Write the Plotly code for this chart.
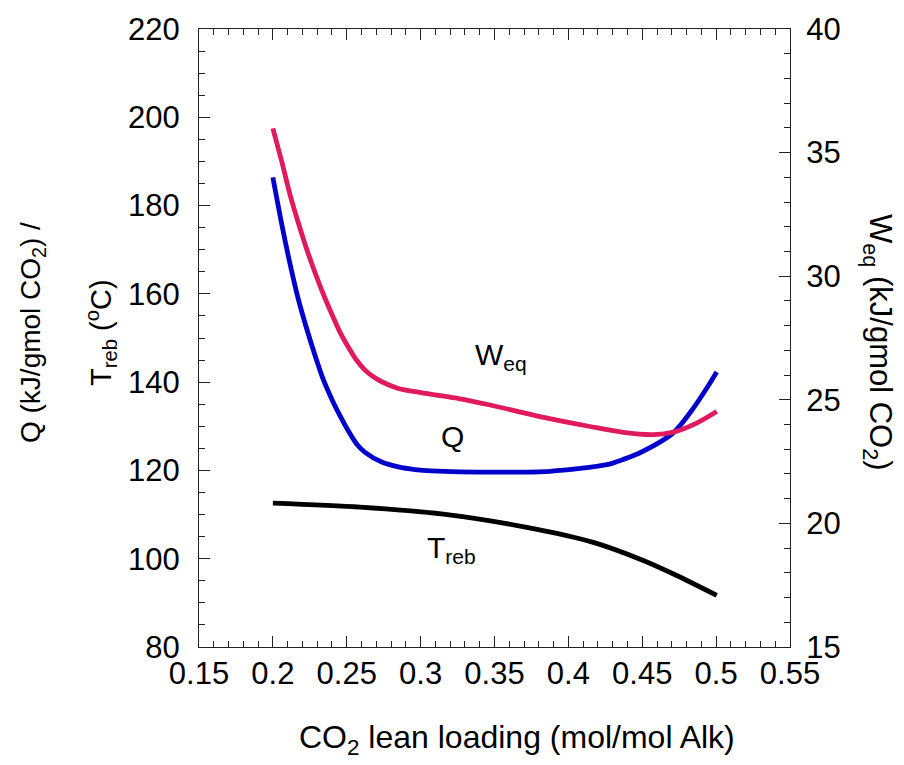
import plotly.graph_objects as go

# Q (kJ/gmol CO2), left axis
q_x = [0.2, 0.206, 0.2116, 0.2172, 0.2229, 0.2285, 0.2341, 0.2398, 0.2454, 0.251,
       0.2567, 0.2624, 0.2737, 0.2849, 0.2962, 0.3075, 0.35, 0.3876, 0.426, 0.4372,
       0.4485, 0.471, 0.4846, 0.4936, 0.5004]
q_y = [186.4, 175.8, 166.8, 158.8, 152.1, 146.1, 140.6, 136.2, 132.4, 129.0,
       126.0, 124.1, 121.9, 120.8, 120.2, 119.9, 119.6, 119.8, 121.3, 122.5,
       124.0, 128.5, 134.1, 138.6, 142.3]

# T_reb (C), left axis
t_x = [0.2, 0.259, 0.3154, 0.3718, 0.4169, 0.4507, 0.4733, 0.5004]
t_y = [112.6, 111.7, 110.1, 107.1, 103.7, 99.6, 96.2, 91.7]

# W_eq (kJ/gmol CO2), right axis
w_x = [0.2, 0.206, 0.2116, 0.2172, 0.2229, 0.2285, 0.2341, 0.2398, 0.2454, 0.251,
       0.2567, 0.2624, 0.268, 0.2737, 0.2849, 0.2962, 0.3075, 0.3267, 0.347, 0.3808,
       0.4146, 0.4372, 0.4575, 0.471, 0.4868, 0.5004]
w_y = [35.98, 34.64, 33.30, 32.16, 31.09, 30.15, 29.28, 28.48, 27.74, 27.14,
       26.60, 26.20, 25.93, 25.73, 25.46, 25.33, 25.22, 25.04, 24.79, 24.32,
       23.92, 23.68, 23.59, 23.69, 24.06, 24.53]

FONT = "Liberation Sans, Arial, sans-serif"
AX = "#222222"

fig = go.Figure()
fig.add_trace(go.Scatter(x=q_x, y=q_y, mode="lines", line=dict(color="#0000CC", width=4.8, shape="spline", smoothing=0.8), showlegend=False))
fig.add_trace(go.Scatter(x=t_x, y=t_y, mode="lines", line=dict(color="#000000", width=4.8, shape="spline", smoothing=0.8), showlegend=False))
fig.add_trace(go.Scatter(x=w_x, y=w_y, mode="lines", yaxis="y2", line=dict(color="#E01A5C", width=4.8, shape="spline", smoothing=0.8), showlegend=False))

W, H = 904, 765
L, R, T, B = 199, 790, 25, 647

def px(xp):
    return (xp - L) / (R - L)

def py(yp):
    return (B - yp) / (B - T)

tickfont = dict(family=FONT, size=31, color="#000000")
minor_common = dict(ticks="inside", ticklen=6, tickwidth=1.3, tickcolor=AX, showgrid=False)
fig.update_layout(
    width=W, height=H, autosize=False,
    margin=dict(l=L, r=W - R, t=T, b=H - B),
    paper_bgcolor="white", plot_bgcolor="white",
    xaxis=dict(range=[0.15, 0.55], dtick=0.05, tick0=0.15, ticks="inside", ticklen=11, tickwidth=1.3,
               tickcolor=AX, showline=True, linecolor=AX, linewidth=1.3, mirror="ticks",
               showgrid=False, zeroline=False, tickfont=tickfont, ticklabelstandoff=-1,
               minor=dict(dtick=0.01, **minor_common)),
    yaxis=dict(range=[80, 220], dtick=20, ticks="inside", ticklen=11, tickwidth=1.3,
               tickcolor=AX, showline=True, linecolor=AX, linewidth=1.3, mirror=False,
               showgrid=False, zeroline=False, tickfont=tickfont, ticklabelstandoff=12,
               minor=dict(dtick=5, **minor_common)),
    yaxis2=dict(range=[15, 40], dtick=5, overlaying="y", side="right", ticks="inside", ticklen=11, tickwidth=1.3,
                tickcolor=AX, showline=True, linecolor=AX, linewidth=1.3,
                showgrid=False, zeroline=False, tickfont=tickfont, ticklabelstandoff=9,
                minor=dict(dtick=1, **minor_common)),
)

def f(size):
    return dict(family=FONT, size=size, color="#000000")

ann = [
    dict(text="CO<sub>2</sub> lean loading (mol/mol Alk)", x=px(517), y=py(740), xref="paper", yref="paper",
         xanchor="center", yanchor="middle", showarrow=False, font=f(32)),
    dict(text="Q (kJ/gmol CO<sub>2</sub>) /", x=px(32), y=py(331), xref="paper", yref="paper",
         xanchor="center", yanchor="middle", showarrow=False, font=f(28), textangle=-90),
    dict(text="T<sub>reb</sub> (<sup>o</sup>C)", x=px(101), y=py(331), xref="paper", yref="paper",
         xanchor="center", yanchor="middle", showarrow=False, font=f(29), textangle=-90),
    dict(text="W<sub>eq</sub> (kJ/gmol CO<sub>2</sub>)", x=px(878), y=py(340), xref="paper", yref="paper",
         xanchor="center", yanchor="middle", showarrow=False, font=f(31), textangle=90),
    dict(text="W<sub>eq</sub>", x=0.3355, y=145.7, xref="x", yref="y", xanchor="left", yanchor="middle",
         showarrow=False, font=f(30)),
    dict(text="Q", x=0.3219, y=127.7, xref="x", yref="y", xanchor="center", yanchor="middle",
         showarrow=False, font=f(30)),
    dict(text="T<sub>reb</sub>", x=0.303, y=102.0, xref="x", yref="y", xanchor="left", yanchor="middle",
         showarrow=False, font=f(30)),
]
fig.update_layout(annotations=ann)

fig.write_html("out.html")
